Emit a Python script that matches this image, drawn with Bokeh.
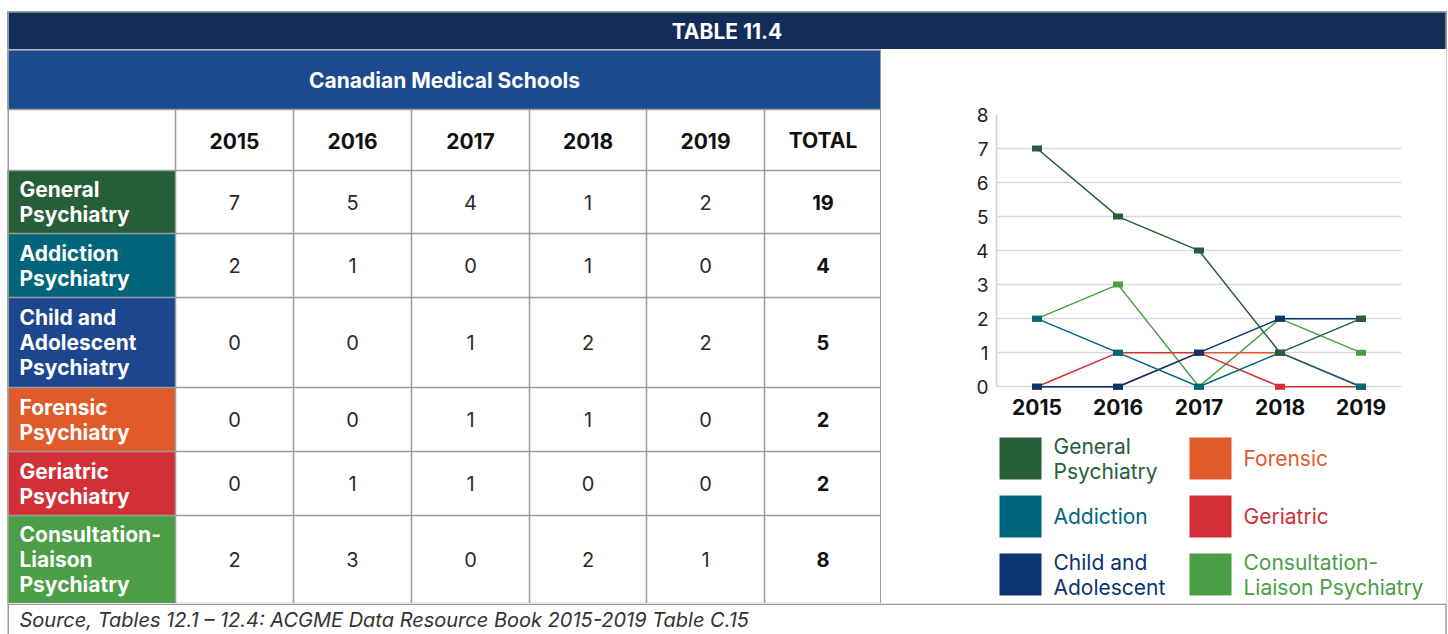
from bokeh.plotting import figure
from bokeh.models import Range1d, FactorRange, FixedTicker
from bokeh.layouts import column, row
from bokeh.embed import file_html
from bokeh.resources import INLINE
from bokeh.core.properties import value

FONT = value("Inter")

# ---------------- data ----------------
years = ["2015", "2016", "2017", "2018", "2019"]
header_labels = ["2015", "2016", "2017", "2018", "2019", "TOTAL"]
row_labels = ["General\nPsychiatry", "Addiction\nPsychiatry",
              "Child and\nAdolescent\nPsychiatry", "Forensic\nPsychiatry",
              "Geriatric\nPsychiatry", "Consultation-\nLiaison\nPsychiatry"]
legend_labels = ["General\nPsychiatry", "Addiction", "Child and\nAdolescent",
                 "Forensic", "Geriatric", "Consultation-\nLiaison Psychiatry"]
general = [7, 5, 4, 1, 2]
addiction = [2, 1, 0, 1, 0]
child = [0, 0, 1, 2, 2]
forensic = [0, 0, 1, 1, 0]
geriatric = [0, 1, 1, 0, 0]
consultation = [2, 3, 0, 2, 1]
totals = [19, 4, 5, 2, 2, 8]
series = [general, addiction, child, forensic, geriatric, consultation]

cell_colors = ["#265e38", "#00657b", "#1c468e", "#e05a2a", "#d23036", "#4b9e45"]
line_colors = ["#265e38", "#00667e", "#0a3570", "#e05a2a", "#d23036", "#4b9e45"]

title_text = "TABLE 11.4"
band_text = "Canadian Medical Schools"
source_text = "Source, Tables 12.1 \u2013 12.4: ACGME Data Resource Book 2015-2019 Table C.15"

# ---------------- layout constants (pixels) ----------------
col_edges = [7, 175, 293, 411, 529, 646, 764, 881]
row_edges = [170, 233, 297, 387, 451, 515, 603]
BORDER = "#9b9b9b"
NAVY = "#122d59"
BAND = "#1c4a8e"


def pix_fig(w, h, x0, x1, y_top, y_bottom):
    p = figure(width=w, height=h, x_range=Range1d(x0, x1), y_range=Range1d(y_bottom, y_top),
               output_backend="svg", toolbar_location=None, tools="",
               x_axis_location=None, y_axis_location=None, min_border=0,
               outline_line_color=None, background_fill_color="white",
               border_fill_color="white", frame_align=False)
    p.xgrid.visible = False
    p.ygrid.visible = False
    return p


# ---------------- title bar ----------------
top = pix_fig(1448, 49, 0, 1448, 0, 49)
top.quad(left=[7], right=[1446], top=[11], bottom=[49], fill_color=NAVY, line_color=None)
top.segment(x0=[7, 7.75, 1445.5], y0=[11.5, 11, 11], x1=[1446, 7.75, 1445.5], y1=[11.5, 49, 49],
            line_color=BORDER, line_width=1.5)
top.text(x=[726.5], y=[30.5], text=[title_text], text_font=FONT, text_font_style="bold",
         text_font_size="21px", text_color="white", text_align="center",
         text_baseline="middle")

# ---------------- table ----------------
tab = pix_fig(881, 554, 0, 881, 49, 603)
tab.quad(left=[7], right=[881], top=[49], bottom=[109], fill_color=BAND, line_color=None)
tab.quad(left=[col_edges[0]] * 6, right=[col_edges[1]] * 6, top=row_edges[:-1],
         bottom=row_edges[1:], fill_color=cell_colors, line_color=None)
tab.text(x=[(7 + 881) / 2], y=[80], text=[band_text], text_font=FONT, text_font_style="bold",
         text_font_size="21px", text_color="white", text_align="center",
         text_baseline="middle")
centers = [(col_edges[i] + col_edges[i + 1]) / 2 for i in range(1, 7)]
tab.text(x=centers, y=[140] * 6, text=header_labels, text_font=FONT, text_font_style="bold",
         text_font_size="21px", text_color="#111111", text_align="center",
         text_baseline="middle")
rmid = [(row_edges[i] + row_edges[i + 1]) / 2 for i in range(6)]
tab.text(x=[19] * 6, y=rmid, text=row_labels, text_font=FONT, text_font_style="bold",
         text_font_size="21px", text_color="white", text_align="left",
         text_baseline="middle", text_line_height=1.0)
vx, vy, vt = [], [], []
for r, vals in enumerate(series):
    for c, v in enumerate(vals):
        vx.append(centers[c]); vy.append(rmid[r]); vt.append(str(v))
tab.text(x=vx, y=vy, text=vt, text_font=FONT, text_font_size="20px",
         text_color="#2a2a2a", text_align="center", text_baseline="middle")
tab.text(x=[centers[5]] * 6, y=rmid, text=[str(t) for t in totals], text_font=FONT,
         text_font_style="bold", text_font_size="20px", text_color="#111111",
         text_align="center", text_baseline="middle")
# grid lines
hy = [49.5, 109] + row_edges
tab.segment(x0=[7] * len(hy), y0=hy, x1=[881] * len(hy), y1=hy,
            line_color=BORDER, line_width=1.5)
vxs = [7.75] + col_edges[1:-1] + [880.25]
vtop = [49] + [109] * 6 + [49]
tab.segment(x0=vxs, y0=vtop, x1=vxs, y1=[603] * len(vxs), line_color=BORDER, line_width=1.5)

# ---------------- line chart ----------------
cp = figure(width=565, height=379, x_range=FactorRange(factors=years),
            y_range=Range1d(-0.2, 8),
            output_backend="svg", toolbar_location=None, tools="",
            min_border_left=115, min_border_right=45, min_border_top=65,
            min_border_bottom=35, outline_line_color=None, frame_align=False,
            background_fill_color="white", border_fill_color="white")
cp.xgrid.visible = False
cp.ygrid.grid_line_color = "#d9d9d9"
cp.ygrid.grid_line_width = 1.5
cp.yaxis.ticker = FixedTicker(ticks=list(range(9)))
cp.yaxis.bounds = (0, 8)
for ax in (cp.xaxis, cp.yaxis):
    ax.major_tick_out = 0
    ax.major_tick_in = 0
    ax.minor_tick_out = 0
    ax.minor_tick_in = 0
    ax.axis_line_color = "#cfcfcf"
    ax.axis_line_width = 1.5
    ax.major_label_text_font = "Inter"
cp.xaxis.axis_line_color = None
cp.yaxis.major_label_text_font_size = "19px"
cp.yaxis.major_label_text_color = "#222222"
cp.yaxis.major_label_standoff = 8
cp.xaxis.major_label_text_font_size = "21px"
cp.xaxis.major_label_text_font_style = "bold"
cp.xaxis.major_label_text_color = "#111111"
cp.xaxis.major_label_standoff = 5
for i in reversed(range(6)):
    cp.line(years, series[i], line_color=line_colors[i], line_width=1.5)
    cp.rect(years, series[i], width=10, height=6, width_units="screen",
            height_units="screen", fill_color=line_colors[i], line_color=None)

# ---------------- legend ----------------
lg = pix_fig(565, 175, 881, 1446, 428, 603)
lx = [1020 + (i // 3) * 190 for i in range(6)]
ly = [458 + (i % 3) * 58 for i in range(6)]
lg.rect(x=lx, y=ly, width=42, height=42, fill_color=line_colors, line_color=None)
lg.text(x=[x + 33 for x in lx], y=ly, text=legend_labels, text_color=line_colors,
        text_font=FONT, text_font_size="21px", text_align="left",
        text_baseline="middle", text_line_height=1.0)

# right border strip
rb = figure(width=1, height=554, output_backend="svg", toolbar_location=None, tools="",
            x_axis_location=None, y_axis_location=None, min_border=0, frame_align=False,
            outline_line_color=None, background_fill_color=BORDER, border_fill_color=BORDER)
rb.xgrid.visible = False
rb.ygrid.visible = False

# ---------------- source row ----------------
bot = pix_fig(1448, 31, 0, 1448, 603, 634)
bot.segment(x0=[7, 7.75, 1445.5], y0=[603.75, 603, 603], x1=[1446, 7.75, 1445.5],
            y1=[603.75, 634, 634], line_color=BORDER, line_width=1.5)
bot.text(x=[19], y=[619], text=[source_text], text_font=FONT, text_font_style="italic",
         text_font_size="20px", text_color="#333333", text_align="left",
         text_baseline="middle")

page = column(top, row(tab, column(cp, lg), rb), bot)
open("out.html", "w").write(file_html(page, INLINE))
